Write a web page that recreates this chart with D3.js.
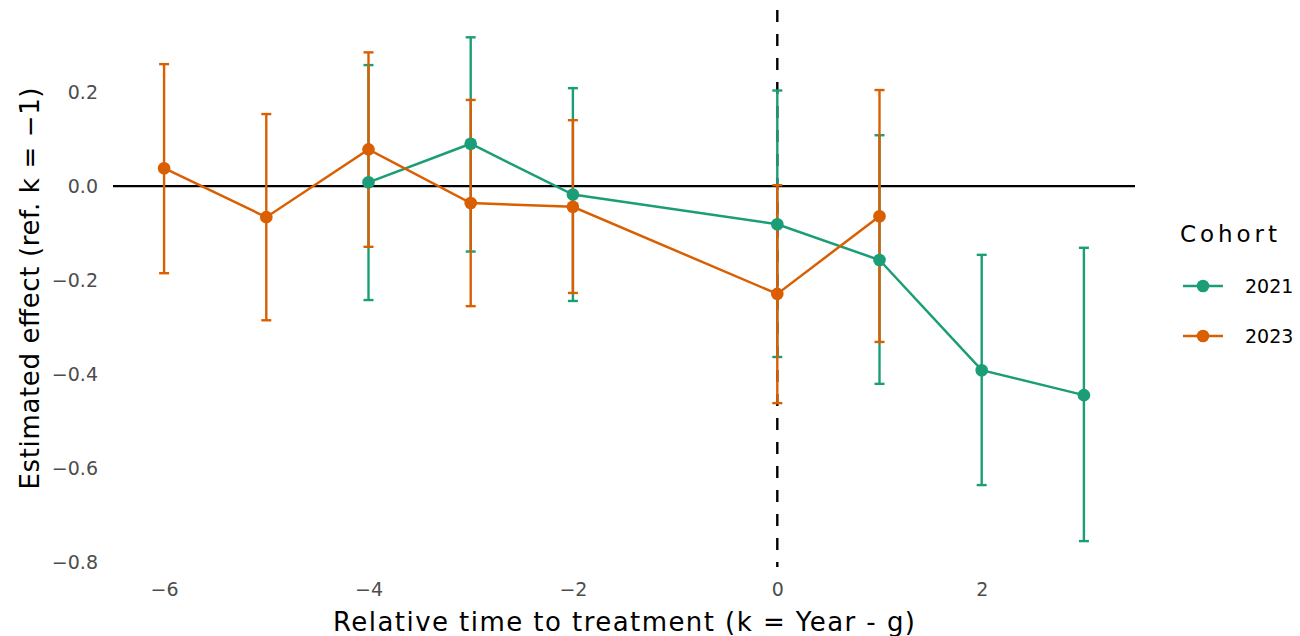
<!DOCTYPE html>
<html lang="en">
<head>
<meta charset="utf-8">
<script src="https://cdn.jsdelivr.net/npm/d3@7"></script>
<style>
  body { margin: 0; background: #fff; }
  svg text { font-family: "DejaVu Sans", "Open Sans", sans-serif; }
  .tick text { fill: #4d4d4d; font-size: 19px; font-family: "DejaVu Sans", sans-serif; }
</style>
</head>
<body>
<script>
// event-study estimates per cohort
const cohorts = ["2021", "2023"];
const colors = ["#1B9E77", "#D95F02"];

const k2021 = [-4, -3, -2, 0, 1, 2, 3];
const est2021 = [0.008, 0.090, -0.018, -0.081, -0.157, -0.391, -0.444];
const lo2021 = [-0.242, -0.139, -0.244, -0.363, -0.420, -0.635, -0.754];
const hi2021 = [0.257, 0.316, 0.208, 0.203, 0.108, -0.146, -0.131];

const k2023 = [-6, -5, -4, -3, -2, 0, 1];
const est2023 = [0.038, -0.066, 0.078, -0.036, -0.044, -0.229, -0.064];
const lo2023 = [-0.185, -0.285, -0.129, -0.255, -0.227, -0.461, -0.331];
const hi2023 = [0.259, 0.153, 0.284, 0.183, 0.140, 0.002, 0.204];

const xTicks = [-6, -4, -2, 0, 2];
const yTicks = [0.2, 0.0, -0.2, -0.4, -0.6, -0.8];

const series = [
  { name: cohorts[0], color: colors[0], pts: k2021.map((k, i) => ({ k, est: est2021[i], lo: lo2021[i], hi: hi2021[i] })) },
  { name: cohorts[1], color: colors[1], pts: k2023.map((k, i) => ({ k, est: est2023[i], lo: lo2023[i], hi: hi2023[i] })) }
];

const W = 1300, H = 636;
const panel = { left: 113, right: 1135, top: 10, bottom: 567 };

const svg = d3.select("body").append("svg")
  .attr("width", W).attr("height", H);

const x = d3.scaleLinear().domain([-6.5, 3.5]).range([panel.left, panel.right]);
const y = d3.scaleLinear().domain([-0.809, 0.374]).range([panel.bottom, panel.top]);

const minus = s => s.replace("-", "\u2212");

// axes (labels only, theme_minimal without grid)
const xAxis = svg.append("g")
  .attr("transform", "translate(0," + panel.bottom + ")")
  .call(d3.axisBottom(x).tickValues(xTicks).tickSize(0).tickPadding(16).tickFormat(d => minus(String(d))));
xAxis.select(".domain").remove();

const yAxis = svg.append("g")
  .attr("transform", "translate(" + panel.left + ",0)")
  .call(d3.axisLeft(y).tickValues(yTicks).tickSize(0).tickPadding(15).tickFormat(d => minus(d3.format(".1f")(d))));
yAxis.select(".domain").remove();

// reference lines
svg.append("line")
  .attr("x1", panel.left).attr("x2", panel.right)
  .attr("y1", y(0)).attr("y2", y(0))
  .attr("stroke", "#000").attr("stroke-width", 2.4);

svg.append("line")
  .attr("x1", x(0)).attr("x2", x(0))
  .attr("y1", panel.top).attr("y2", panel.bottom)
  .attr("stroke", "#000").attr("stroke-width", 2.4)
  .attr("stroke-dasharray", "12,12");

// error bars
const capW = 5;
series.forEach(s => {
  const g = svg.append("g").attr("stroke", s.color).attr("stroke-width", 2.4);
  s.pts.forEach(p => {
    g.append("line").attr("x1", x(p.k)).attr("x2", x(p.k)).attr("y1", y(p.lo)).attr("y2", y(p.hi));
    g.append("line").attr("x1", x(p.k) - capW).attr("x2", x(p.k) + capW).attr("y1", y(p.lo)).attr("y2", y(p.lo));
    g.append("line").attr("x1", x(p.k) - capW).attr("x2", x(p.k) + capW).attr("y1", y(p.hi)).attr("y2", y(p.hi));
  });
});

// lines
const line = d3.line().x(d => x(d.k)).y(d => y(d.est));
series.forEach(s => {
  svg.append("path").datum(s.pts)
    .attr("d", line)
    .attr("fill", "none")
    .attr("stroke", s.color)
    .attr("stroke-width", 2.5);
});

// points
series.forEach(s => {
  svg.append("g").selectAll("circle")
    .data(s.pts).enter().append("circle")
    .attr("cx", d => x(d.k)).attr("cy", d => y(d.est))
    .attr("r", 6.3).attr("fill", s.color);
});

// axis titles
svg.append("text")
  .attr("x", (panel.left + panel.right) / 2).attr("y", 631)
  .attr("text-anchor", "middle")
  .attr("font-size", 26).attr("fill", "#000")
  .attr("textLength", 582).attr("lengthAdjust", "spacing")
  .text("Relative time to treatment (k = Year - g)");

svg.append("text")
  .attr("transform", "translate(39," + (panel.top + panel.bottom) / 2 + ") rotate(-90)")
  .attr("text-anchor", "middle")
  .attr("font-size", 26).attr("fill", "#000")
  .attr("textLength", 402).attr("lengthAdjust", "spacing")
  .text("Estimated effect (ref. k = \u22121)");

// legend
const legend = svg.append("g").attr("transform", "translate(1180,0)");
legend.append("text")
  .attr("x", 0).attr("y", 242)
  .attr("font-size", 23).attr("fill", "#000")
  .attr("textLength", 97).attr("lengthAdjust", "spacing")
  .text("Cohort");

series.forEach((s, i) => {
  const row = legend.append("g").attr("transform", "translate(0," + (286 + i * 50) + ")");
  row.append("line").attr("x1", 3).attr("x2", 43).attr("y1", 0).attr("y2", 0)
    .attr("stroke", s.color).attr("stroke-width", 2.5);
  row.append("circle").attr("cx", 23).attr("cy", 0).attr("r", 6.3).attr("fill", s.color);
  row.append("text").attr("x", 65).attr("y", 0).attr("dy", "0.36em")
    .attr("font-size", 19).attr("fill", "#000")
    .text(s.name);
});
</script>
</body>
</html>
